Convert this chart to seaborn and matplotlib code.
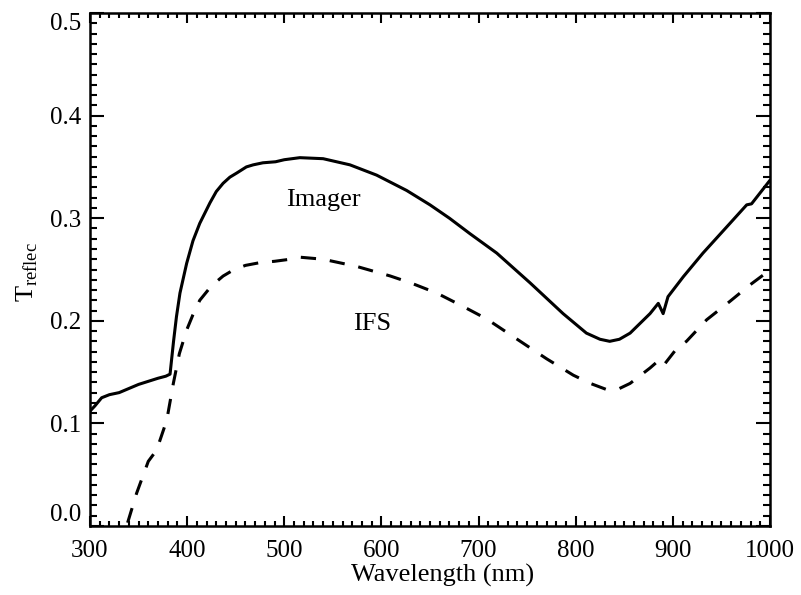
import matplotlib
matplotlib.use("Agg")
import matplotlib.pyplot as plt
import seaborn as sns
import pandas as pd
from matplotlib.ticker import MultipleLocator

# ---- data ----
imager_wave = [300, 305, 312, 320, 330, 340, 350, 360, 370, 378, 382.4, 386, 389,
               392.6, 399.5, 406, 413, 423.5, 430, 437, 444, 451, 461, 468, 478, 491, 500,
               516, 540, 567.6, 595, 626, 650, 670, 691, 718.7, 753, 787, 811,
               825, 835, 845, 856, 876.5, 885, 890, 895, 910.8, 931, 958.8, 976, 981, 1000]
imager_val = [0.112, 0.117, 0.125, 0.128, 0.130, 0.134, 0.138, 0.141, 0.144, 0.146,
              0.148, 0.180, 0.204, 0.227, 0.256, 0.278, 0.295, 0.315, 0.326, 0.334, 0.340, 0.344,
              0.350, 0.352, 0.354, 0.355, 0.357, 0.359, 0.358, 0.352, 0.342, 0.327,
              0.313, 0.300, 0.285, 0.266, 0.237, 0.207, 0.188, 0.182, 0.180, 0.182, 0.188, 0.207,
              0.217, 0.207, 0.2235, 0.243, 0.266, 0.295, 0.313, 0.314, 0.337]

ifs_wave = [330, 337.7, 348, 360, 368.6, 379, 385.8, 392, 399.5, 406, 413, 425,
            437, 447.5, 460, 475, 490, 506, 516, 540, 574.5, 609, 630, 657, 684,
            708, 735.8, 770, 797.5, 815, 831.8, 845, 856, 876.5, 885, 890, 904, 914,
            934.8, 958.8, 979.4, 993, 1000]
ifs_val = [-0.024, 0.0, 0.032, 0.063, 0.074, 0.103, 0.139, 0.168, 0.191, 0.206,
           0.220, 0.234, 0.2436, 0.2495, 0.254, 0.2567, 0.258, 0.260, 0.262, 0.260,
           0.253, 0.2437, 0.237, 0.227, 0.214, 0.202, 0.1845, 0.163, 0.147, 0.139,
           0.133, 0.134, 0.139, 0.154, 0.161, 0.156, 0.173, 0.180, 0.201, 0.219, 0.235,
           0.2446, 0.248]

x_ticks = [300, 400, 500, 600, 700, 800, 900, 1000]
y_ticks = [0.0, 0.1, 0.2, 0.3, 0.4, 0.5]

df_im = pd.DataFrame({"wave": imager_wave, "val": imager_val})
df_ifs = pd.DataFrame({"wave": ifs_wave, "val": ifs_val})

sns.set_style("ticks")
plt.rcParams["font.family"] = ["Liberation Serif", "DejaVu Serif"]
plt.rcParams["mathtext.fontset"] = "custom"
plt.rcParams["mathtext.rm"] = "Liberation Serif"
plt.rcParams["lines.scale_dashes"] = False
for key in ["text.color", "axes.labelcolor", "xtick.color", "ytick.color",
            "axes.edgecolor"]:
    plt.rcParams[key] = "black"

fig = plt.figure(figsize=(8.01, 5.95), dpi=100)
ax = fig.add_axes([90 / 801, (595 - 526) / 595, 680 / 801, 513 / 595])

sns.lineplot(data=df_im, x="wave", y="val", ax=ax, color="black", lw=2.2,
             estimator=None, sort=False)
sns.lineplot(data=df_ifs, x="wave", y="val", ax=ax, color="black", lw=2.2,
             estimator=None, sort=False, dashes=False)
ax.lines[1].set_dashes((11, 10))

ax.set_xlim(300, 1000)
ax.set_ylim(0, 0.5)
ax.set_xticks(x_ticks)
ax.set_xticklabels([str(t) for t in x_ticks])
ax.set_yticks(y_ticks)
ax.set_yticklabels([f"{t:.1f}" for t in y_ticks])
ax.xaxis.set_minor_locator(MultipleLocator(10))
ax.yaxis.set_minor_locator(MultipleLocator(0.01))

for s in ax.spines.values():
    s.set_linewidth(1.8)
    s.set_color("black")
    s.set_visible(True)

ax.tick_params(axis="x", which="major", direction="in", length=7.2, width=1.5,
               top=True, bottom=True, labelsize=18, pad=10, colors="black")
ax.tick_params(axis="x", which="minor", direction="in", length=3.6, width=1.5,
               top=True, bottom=True, colors="black")
ax.tick_params(axis="y", which="major", direction="in", length=9.8, width=1.5,
               left=True, right=True, labelsize=18, pad=6, colors="black")
ax.tick_params(axis="y", which="minor", direction="in", length=4.9, width=1.5,
               left=True, right=True, colors="black")

ylabels = ax.get_yticklabels()
ylabels[0].set_va("bottom")
ylabels[-1].set_va("top")

ax.set_xlabel("Wavelength (nm)", fontsize=19, color="black")
ax.xaxis.set_label_coords(0.518, -0.074)
ax.set_ylabel(r"T$_{\mathrm{reflec}}$", fontsize=19, color="black")
ax.yaxis.set_label_coords(-0.074, 0.495)

ax.text(540, 0.318, "Imager", fontsize=19, ha="center", va="center", color="black")
ax.text(590, 0.197, "IFS", fontsize=19, ha="center", va="center", color="black")

fig.savefig("out.png", dpi=100)
